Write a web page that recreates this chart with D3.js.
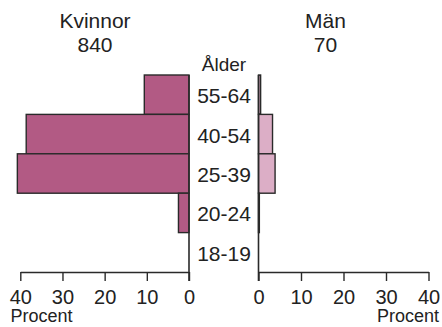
<!DOCTYPE html>
<html>
<head>
<meta charset="utf-8">
<script src="https://cdn.jsdelivr.net/npm/d3@7"></script>
<style>
  html, body { margin: 0; padding: 0; background: #fff; }
  svg { display: block; font-family: "Liberation Sans", Arial, Helvetica, sans-serif; }
</style>
</head>
<body>
<svg id="chart" width="442" height="327"></svg>
<script>
const ageGroups = ["55-64", "40-54", "25-39", "20-24", "18-19"];
const womenValues = [10.6, 38.6, 40.7, 2.5, 0];
const menValues = [0.5, 3.3, 3.9, 0.2, 0];
const tickValues = [0, 10, 20, 30, 40];
const womenTitle = "Kvinnor";
const womenCount = "840";
const menTitle = "Män";
const menCount = "70";
const ageTitle = "Ålder";
const unitLabel = "Procent";

const svg = d3.select("#chart");
const ink = "#2a2a2a";
const womenColor = "#b25a84";
const menColor = "#dcaec6";

const xLeft = d3.scaleLinear().domain([0, 40]).range([189, 20.3]);
const xRight = d3.scaleLinear().domain([0, 40]).range([258.5, 428.5]);
const y = d3.scaleBand().domain(ageGroups).range([75, 272]).padding(0);

// Bars
svg.append("g").selectAll("rect").data(ageGroups).join("rect")
  .attr("x", (d, i) => xLeft(womenValues[i]))
  .attr("y", d => y(d))
  .attr("width", (d, i) => xLeft(0) - xLeft(womenValues[i]))
  .attr("height", y.bandwidth())
  .attr("fill", womenColor)
  .attr("stroke", ink)
  .attr("stroke-width", 1.4)
  .style("display", (d, i) => womenValues[i] > 0 ? null : "none");

svg.append("g").selectAll("rect").data(ageGroups).join("rect")
  .attr("x", xRight(0))
  .attr("y", d => y(d))
  .attr("width", (d, i) => xRight(menValues[i]) - xRight(0))
  .attr("height", y.bandwidth())
  .attr("fill", menColor)
  .attr("stroke", ink)
  .attr("stroke-width", 1.4)
  .style("display", (d, i) => menValues[i] > 0 ? null : "none");

// Vertical baselines
[xLeft(0), xRight(0)].forEach(x => {
  svg.append("line")
    .attr("x1", x).attr("x2", x)
    .attr("y1", 75).attr("y2", 281)
    .attr("stroke", ink).attr("stroke-width", 1.6);
});

// Axes
function styleAxis(g) {
  g.select(".domain").attr("stroke", ink).attr("stroke-width", 1.4);
  g.selectAll(".tick line").attr("stroke", ink).attr("stroke-width", 1.4);
  g.selectAll(".tick text")
    .attr("fill", "#222")
    .attr("font-size", 20)
    .attr("dy", null)
    .attr("y", 32);
  g.attr("font-family", null);
}
const axisLeftG = svg.append("g").attr("transform", "translate(0,272)")
  .call(d3.axisBottom(xLeft).tickValues(tickValues).tickSize(9).tickSizeOuter(0).tickFormat(d3.format("d")));
styleAxis(axisLeftG);
const axisRightG = svg.append("g").attr("transform", "translate(0,272)")
  .call(d3.axisBottom(xRight).tickValues(tickValues).tickSize(9).tickSizeOuter(0).tickFormat(d3.format("d")));
styleAxis(axisRightG);

// Category labels
svg.append("g").selectAll("text").data(ageGroups).join("text")
  .attr("x", 224)
  .attr("y", d => y(d) + y.bandwidth() / 2 + 8.5)
  .attr("text-anchor", "middle")
  .attr("font-size", 21)
  .attr("fill", "#222")
  .text(d => d);

svg.append("text").attr("x", 224).attr("y", 71)
  .attr("text-anchor", "middle").attr("font-size", 19).attr("fill", "#222")
  .text(ageTitle);

// Titles
svg.append("text").attr("x", 95).attr("y", 28)
  .attr("text-anchor", "middle").attr("font-size", 21).attr("fill", "#222").text(womenTitle);
svg.append("text").attr("x", 95).attr("y", 52)
  .attr("text-anchor", "middle").attr("font-size", 21).attr("fill", "#222").text(womenCount);
svg.append("text").attr("x", 325.5).attr("y", 28)
  .attr("text-anchor", "middle").attr("font-size", 21).attr("fill", "#222").text(menTitle);
svg.append("text").attr("x", 325.5).attr("y", 52)
  .attr("text-anchor", "middle").attr("font-size", 21).attr("fill", "#222").text(menCount);

// Unit labels
svg.append("text").attr("x", 10.5).attr("y", 322)
  .attr("font-size", 18).attr("fill", "#222").text(unitLabel);
svg.append("text").attr("x", 439).attr("y", 322)
  .attr("text-anchor", "end").attr("font-size", 18).attr("fill", "#222").text(unitLabel);
</script>
</body>
</html>
